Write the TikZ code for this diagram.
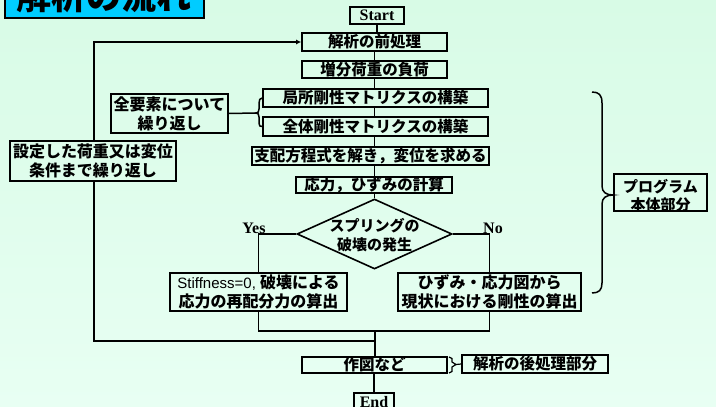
\documentclass[tikz,border=0pt]{standalone}
\usepackage{fontspec}
\setmainfont{Liberation Serif}
\newfontfamily\jp{Noto Sans CJK JP}
\newfontfamily\arial{Liberation Sans}
\usetikzlibrary{shapes.geometric,arrows.meta}
\definecolor{bgtop}{RGB}{216,251,230}
\definecolor{bgbot}{RGB}{232,255,243}
\definecolor{titlecyan}{RGB}{0,204,255}
\begin{document}
\begin{tikzpicture}[x=1pt,y=-1pt,
  box/.style={draw, line width=1.6pt, inner sep=0pt, align=center,
    font=\jp\bfseries\fontsize{15.5}{17}\selectfont},
  box2/.style={box, font=\jp\bfseries\fontsize{16}{19}\selectfont},
  conn/.style={line width=1.5pt},
  lat/.style={font=\bfseries\fontsize{16}{18}\selectfont, inner sep=0pt}]
\useasboundingbox (0,0) rectangle (716,407);
\clip (0,0) rectangle (716,407);
\fill[top color=bgtop, bottom color=bgbot] (0,0) rectangle (716,407);

% title
\node[draw, line width=1.6pt, fill=titlecyan, minimum width=199pt, minimum height=40pt, inner sep=0pt] (titlebox) at (104.5,-2) {};
\node[font=\jp\bfseries\fontsize{35}{38}\selectfont, inner sep=0pt, anchor=base] (title) at (104,9) {解析の流れ};

% main column
\node[box, lat, minimum width=54pt, minimum height=17pt] (start) at (377,15.5) {Start};
\node[box, minimum width=145pt, minimum height=18pt] (pre) at (374.5,42) {解析の前処理};
\node[box, minimum width=145pt, minimum height=17pt] (inc) at (374.5,69.5) {増分荷重の負荷};
\node[box, minimum width=225pt, minimum height=18pt] (loc) at (375.5,98) {局所剛性マトリクスの構築};
\node[box, minimum width=225pt, minimum height=19pt] (glob) at (375.5,126.5) {全体剛性マトリクスの構築};
\node[box, minimum width=237pt, minimum height=18pt] (solve) at (370.5,156) {支配方程式を解き，変位を求める};
\node[box, minimum width=156pt, minimum height=16pt] (strs) at (374,185) {応力，ひずみの計算};
\node[draw, diamond, line width=1.6pt, minimum width=155pt, minimum height=70pt, inner sep=0pt] (dia) at (374.5,234) {};
\node[font=\jp\bfseries\fontsize{15}{19.5}\selectfont, align=center, inner sep=0pt] (diat) at (374.5,235) {スプリングの\\破壊の発生};
\node[lat] (yes) at (254,228) {Yes};
\node[lat] (no) at (493,228) {No};
\node[box2, minimum width=177pt, minimum height=38pt] (yesbox) at (258.5,292)
  {{\arial\mdseries\fontsize{15}{19}\selectfont Stiffness=0,\ }破壊による\\応力の再配分力の算出};
\node[box2, minimum width=183pt, minimum height=38pt] (nobox) at (489.5,292)
  {ひずみ・応力図から\\現状における剛性の算出};
\coordinate (merge) at (375,331);
\coordinate (loopj) at (375,341);
\node[box, minimum width=145pt, minimum height=16pt] (drawb) at (374.5,365) {作図など};
\node[box, minimum width=146pt, minimum height=18pt] (post) at (535,364) {解析の後処理部分};
\node[box, lat, minimum width=40pt, minimum height=18pt] (end) at (374,402) {End};

% side boxes
\node[box2, minimum width=117pt, minimum height=39pt] (allel) at (169.5,113.5) {全要素について\\繰り返し};
\node[box2, minimum width=166pt, minimum height=40pt] (cond) at (93,161) {設定した荷重又は変位\\条件まで繰り返し};
\node[draw, line width=1.6pt, minimum width=93pt, minimum height=37pt, inner sep=0pt] (prog) at (660.5,192.5) {};
\node[font=\jp\bfseries\fontsize{15}{18}\selectfont, align=center, inner sep=0pt] (progt) at (660.5,195.5) {プログラム\\本体部分};

% connectors
\draw[conn] (start.south) -- (start.south |- pre.north);
\draw[conn] (pre.south) -- (pre.south |- inc.north);
\draw[conn] (inc.south) -- (inc.south |- loc.north);
\draw[conn] (loc.south -| inc.south) -- (inc.south |- glob.north);
\draw[conn] (glob.south -| inc.south) -- (inc.south |- solve.north);
\draw[conn] (solve.south -| inc.south) -- (inc.south |- strs.north);
\draw[conn] (strs.south -| dia.north) -- (dia.north);
\draw[conn] (dia.west) -| (yesbox.north);
\draw[conn] (dia.east) -| (nobox.north);
\draw[conn] (yesbox.south) |- (merge);
\draw[conn] (nobox.south) |- (merge);
\draw[conn] (merge) -- (merge |- drawb.north);
\draw[conn] (drawb.south -| end.north) -- (end.north);
\draw[conn] (loopj) -| (cond.south -| 94,0);
\draw[conn, -{Latex[length=5pt,width=5pt]}] (cond.north -| 94,0) |- (pre.west);

% left brace
\coordinate (lbt) at (256,113);
\draw[conn] (allel.east) -- (lbt);
\draw[conn] (loc.west) .. controls (260,98) and (259,100) .. (259,103) -- (259,109)
  .. controls (259,112) and (258,113) .. (lbt)
  .. controls (258,113) and (259,114) .. (259,117) -- (259,123)
  .. controls (259,126) and (260,126.5) .. (glob.west);

% right brace
\coordinate (rbt) at (613,195);
\draw[conn] (592,92) .. controls (599,92) and (602,95) .. (602,103) -- (602,186)
  .. controls (602,192) and (606,195) .. (rbt)
  .. controls (606,195) and (602,198) .. (602,204) -- (602,283)
  .. controls (602,290) and (599,293) .. (592,293);

% small bracket to post-processing
\coordinate (sbt) at (456,364.5);
\draw[line width=1.2pt] (449,357) -- (452,358.5) -- (452,362) -- (sbt) -- (452,367) -- (452,371.5) -- (449,373);
\draw[line width=1.2pt] (sbt) -- (post.west);
\end{tikzpicture}
\end{document}
